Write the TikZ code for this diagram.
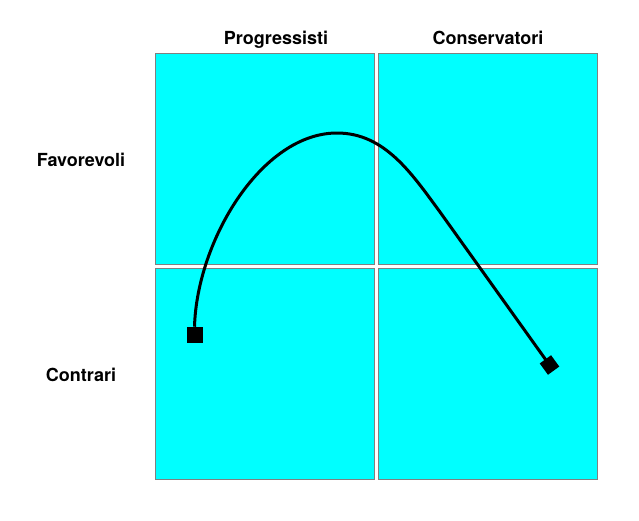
\documentclass[tikz,border=0pt]{standalone}
\usepackage{fontspec}
\setmainfont{TeX Gyre Heros}
\tikzset{
  quad/.style={draw={rgb, 255:red, 128; green, 128; blue, 128},line width=0.75,fill={rgb, 255:red, 0; green, 255; blue, 255},minimum width=163.9pt,minimum height=157.9pt,inner sep=0pt},
  marker/.style={fill=black,minimum size=#1,inner sep=0pt},
  heading/.style={anchor=base,inner sep=0.75pt,font=\fontsize{13.5pt}{16pt}\selectfont\bfseries},
}
\begin{document}
\begin{tikzpicture}[x=0.75pt,y=0.75pt,yscale=-1,xscale=1]
\useasboundingbox (0,0) rectangle (639,521);

%Shape: Square [id:tl]
\node [quad] (favprog) at (265.25,159.25) {};
%Shape: Square [id:tr]
\node [quad] (favcons) at (488,159.25) {};
%Shape: Square [id:bl]
\node [quad] (conprog) at (265.25,374.25) {};
%Shape: Square [id:br]
\node [quad] (concons) at (488,374.25) {};

% Text Node
\node [heading] (progr) at (276,44) {Progressisti};
% Text Node
\node [heading] (conse) at (488,44) {Conservatori};
% Text Node
\node [heading] (favor) at (81,166) {Favorevoli};
% Text Node
\node [heading] (contr) at (81,381) {Contrari};

%Shape: Marker [id:start]
\node [marker=12pt] (start) at (194.5,335) {};
%Shape: Marker [id:end]
\node [marker=10.5pt,rotate=36] (end) at (549.5,365) {};

%Curve Lines [id:path]
\draw [line width=2.25] (start.north) .. controls (197,240) and (262,133) .. (337,133)
  .. controls (385,133) and (412,174) .. (440,212) -- (end.center) ;

\end{tikzpicture}
\end{document}
